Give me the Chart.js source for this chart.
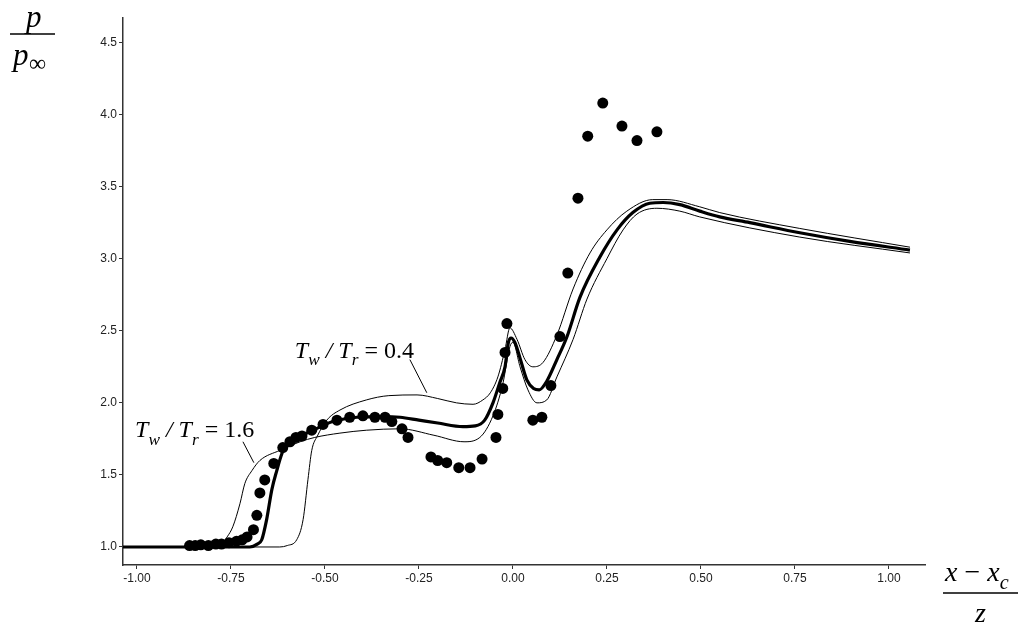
<!DOCTYPE html>
<html>
<head>
<meta charset="utf-8">
<script src="https://cdn.jsdelivr.net/npm/chart.js@4.4.1/dist/chart.umd.min.js"></script>
<style>
  html, body { margin: 0; padding: 0; background: #fff; }
  #wrap { width: 1033px; height: 627px; }
</style>
</head>
<body>
<div id="wrap"><canvas id="c" width="1033" height="627"></canvas></div>
<script>
// measured pressure (dots)
const dotX = [-0.86, -0.845, -0.83, -0.81, -0.79, -0.775, -0.755, -0.735, -0.72, -0.707, -0.69, -0.681,
  -0.673, -0.66, -0.636, -0.612, -0.593, -0.577, -0.561, -0.535, -0.505, -0.468, -0.434, -0.399,
  -0.367, -0.34, -0.322, -0.295, -0.279, -0.218, -0.2, -0.176, -0.144, -0.114, -0.082, -0.045,
  -0.04, -0.027, -0.021, -0.016, 0.053, 0.077, 0.101, 0.125, 0.146, 0.173, 0.199, 0.239, 0.29, 0.33, 0.383];
const dotY = [1.01, 1.01, 1.015, 1.01, 1.02, 1.02, 1.03, 1.04, 1.05, 1.07, 1.12, 1.22,
  1.375, 1.465, 1.58, 1.69, 1.73, 1.76, 1.77, 1.81, 1.85, 1.88, 1.90, 1.91,
  1.90, 1.90, 1.87, 1.82, 1.76, 1.625, 1.60, 1.585, 1.55, 1.55, 1.61, 1.76,
  1.92, 2.10, 2.35, 2.55, 1.88, 1.90, 2.12, 2.46, 2.90, 3.42, 3.85, 4.08, 3.92, 3.82, 3.88];

// computation, thick line
const baseX = [-1.04, -0.70, -0.68, -0.668, -0.655, -0.641, -0.628, -0.614, -0.598, -0.566, -0.532, -0.479,
  -0.415, -0.346, -0.30, -0.25, -0.20, -0.133, -0.10, -0.075, -0.053, -0.035, -0.021, -0.012, -0.005,
  0.005, 0.019, 0.037, 0.055, 0.07, 0.09, 0.117, 0.144, 0.178, 0.231, 0.277, 0.319, 0.364, 0.40,
  0.444, 0.497, 0.55, 0.63, 0.763, 0.896, 1.056];
const baseY = [1.0, 1.0, 1.02, 1.05, 1.19, 1.40, 1.53, 1.65, 1.73, 1.77, 1.81, 1.87,
  1.90, 1.905, 1.90, 1.88, 1.86, 1.835, 1.84, 1.88, 2.0, 2.14, 2.25, 2.42, 2.45,
  2.42, 2.31, 2.16, 2.10, 2.09, 2.15, 2.30, 2.46, 2.73, 3.01, 3.20, 3.32, 3.385, 3.39,
  3.375, 3.33, 3.29, 3.25, 3.18, 3.12, 3.06];

// Tw/Tr = 0.4
const coldX = [-1.04, -0.62, -0.60, -0.575, -0.558, -0.545, -0.535, -0.52, -0.495, -0.46, -0.39, -0.33,
  -0.255, -0.20, -0.15, -0.106, -0.08, -0.06, -0.04, -0.021, -0.008, 0.011, 0.032, 0.053, 0.08,
  0.117, 0.16, 0.205, 0.25, 0.303, 0.372, 0.41, 0.497, 0.55, 0.763, 1.056];
const coldY = [1.0, 1.0, 1.01, 1.05, 1.19, 1.47, 1.67, 1.77, 1.88, 1.95, 2.02, 2.05,
  2.055, 2.03, 2.00, 1.99, 2.02, 2.07, 2.18, 2.37, 2.52, 2.44, 2.30, 2.25, 2.28,
  2.47, 2.79, 3.04, 3.20, 3.33, 3.41, 3.41, 3.36, 3.32, 3.21, 3.08];

// Tw/Tr = 1.6
const hotX = [-1.04, -0.80, -0.775, -0.76, -0.745, -0.726, -0.713, -0.694, -0.673, -0.62, -0.566, -0.527,
  -0.46, -0.39, -0.30, -0.21, -0.13, -0.088, -0.053, -0.027, -0.008, 0.0, 0.019, 0.04, 0.064,
  0.09, 0.117, 0.16, 0.197, 0.25, 0.293, 0.33, 0.383, 0.444, 0.497, 0.763, 1.056];
const hotY = [1.0, 1.0, 1.02, 1.07, 1.14, 1.30, 1.44, 1.53, 1.60, 1.67, 1.73, 1.76,
  1.79, 1.81, 1.82, 1.775, 1.73, 1.76, 1.91, 2.13, 2.39, 2.42, 2.25, 2.09, 2.0,
  2.02, 2.18, 2.44, 2.72, 3.0, 3.2, 3.31, 3.35, 3.33, 3.29, 3.15, 3.04];

const xTicks = [-1.0, -0.75, -0.5, -0.25, 0, 0.25, 0.5, 0.75, 1.0];
const yTicks = [1.0, 1.5, 2.0, 2.5, 3.0, 3.5, 4.0, 4.5];

const toPts = (xs, ys) => xs.map((x, i) => ({ x: x, y: ys[i] }));

const SERIF = '"Liberation Serif", "Times New Roman", serif';
const tickFont = { family: '"Liberation Sans", Arial, sans-serif', size: 12 };

// draw text made of italic / subscript pieces
function drawRich(ctx, x, y, parts, size) {
  parts.forEach(p => {
    const fs = p.sub ? size * 0.72 : size;
    ctx.font = (p.it ? 'italic ' : '') + fs + 'px ' + SERIF;
    ctx.fillText(p.t, x, y + (p.sub ? size * 0.3 : 0));
    x += ctx.measureText(p.t).width;
  });
}

const labelParts = val => [
  { t: 'T', it: 1 }, { t: 'w', it: 1, sub: 1 }, { t: ' / ', it: 1 },
  { t: 'T', it: 1 }, { t: 'r', it: 1, sub: 1 }, { t: ' = ' + val }
];

// curve labels with leader lines (data units)
const notes = [
  { val: '0.4', at: [-0.58, 2.31], from: [-0.274, 2.30], to: [-0.229, 2.07] },
  { val: '1.6', at: [-1.005, 1.76], from: [-0.718, 1.73], to: [-0.689, 1.585] }
];

const notesPlugin = {
  id: 'notes',
  afterDatasetsDraw(chart) {
    const { ctx, scales: { x, y } } = chart;
    ctx.save();
    ctx.fillStyle = '#000';
    ctx.strokeStyle = '#000';
    ctx.lineWidth = 1;
    ctx.textBaseline = 'alphabetic';
    notes.forEach(n => {
      drawRich(ctx, x.getPixelForValue(n.at[0]), y.getPixelForValue(n.at[1]), labelParts(n.val), 24);
      ctx.beginPath();
      ctx.moveTo(x.getPixelForValue(n.from[0]), y.getPixelForValue(n.from[1]));
      ctx.lineTo(x.getPixelForValue(n.to[0]), y.getPixelForValue(n.to[1]));
      ctx.stroke();
    });
    ctx.restore();
  },
  afterDraw(chart) {
    const ctx = chart.ctx;
    ctx.save();
    ctx.fillStyle = '#000';
    ctx.strokeStyle = '#000';
    ctx.lineWidth = 1.5;
    // y title: p / p_inf
    drawRich(ctx, 26, 27, [{ t: 'p', it: 1 }], 31);
    ctx.beginPath(); ctx.moveTo(10, 34); ctx.lineTo(55, 34); ctx.stroke();
    drawRich(ctx, 13, 65, [{ t: 'p', it: 1 }], 31);
    ctx.font = '24px ' + SERIF;
    ctx.fillText('\u221E', 29, 71);
    // x title: (x - x_c) / z
    drawRich(ctx, 945, 581, [{ t: 'x', it: 1 }, { t: ' \u2212 ' }, { t: 'x', it: 1 }, { t: 'c', it: 1, sub: 1 }], 28);
    ctx.beginPath(); ctx.moveTo(943, 593); ctx.lineTo(1018, 593); ctx.stroke();
    drawRich(ctx, 975, 622, [{ t: 'z', it: 1 }], 28);
    ctx.restore();
  }
};

new Chart(document.getElementById('c'), {
  type: 'scatter',
  data: {
    datasets: [
      { data: toPts(dotX, dotY), showLine: false, pointRadius: 5.5, pointBackgroundColor: '#000',
        pointBorderColor: '#000', pointBorderWidth: 0, order: 0 },
      { data: toPts(baseX, baseY), showLine: true, borderColor: '#000', borderWidth: 3.2,
        pointRadius: 0, cubicInterpolationMode: 'monotone', order: 1 },
      { data: toPts(coldX, coldY), showLine: true, borderColor: '#000', borderWidth: 1,
        pointRadius: 0, cubicInterpolationMode: 'monotone', order: 2 },
      { data: toPts(hotX, hotY), showLine: true, borderColor: '#000', borderWidth: 1,
        pointRadius: 0, cubicInterpolationMode: 'monotone', order: 2 }
    ]
  },
  options: {
    responsive: false,
    animation: false,
    events: [],
    layout: { padding: { left: 0, top: 18, right: 108, bottom: 0 } },
    plugins: { legend: { display: false }, tooltip: { enabled: false } },
    scales: {
      x: {
        type: 'linear', min: -1.037, max: 1.096,
        afterFit: s => { s.height = 62; },
        afterBuildTicks: s => { s.ticks = xTicks.map(v => ({ value: v })); },
        ticks: { callback: v => Number(v).toFixed(2), font: tickFont, color: '#222', padding: 2,
          maxRotation: 0, autoSkip: false },
        grid: { display: true, drawOnChartArea: false, tickLength: 4, color: '#333' },
        border: { display: true, color: '#333', width: 1.5 }
      },
      y: {
        type: 'linear', min: 0.875, max: 4.67,
        afterFit: s => { s.width = 123; },
        afterBuildTicks: s => { s.ticks = yTicks.map(v => ({ value: v })); },
        ticks: { callback: v => Number(v).toFixed(1), font: tickFont, color: '#222', padding: 2 },
        grid: { display: true, drawOnChartArea: false, tickLength: 4, color: '#333' },
        border: { display: true, color: '#333', width: 1.5 }
      }
    }
  },
  plugins: [notesPlugin]
});
</script>
</body>
</html>
